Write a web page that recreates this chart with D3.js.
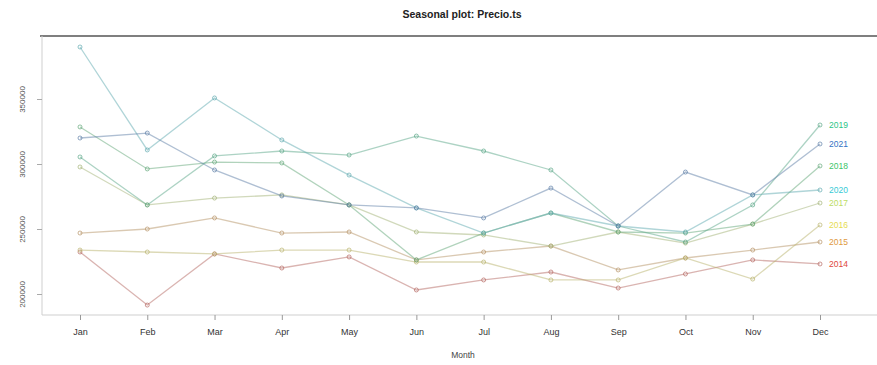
<!DOCTYPE html>
<html>
<head>
<meta charset="utf-8">
<script src="https://cdn.jsdelivr.net/npm/d3@7"></script>
<style>
  html, body { margin: 0; padding: 0; background: #fff; }
  svg { display: block; font-family: "Liberation Sans", Arial, sans-serif; }
</style>
</head>
<body>
<svg id="chart" width="877" height="365"></svg>
<script>
// Monthly price series, one line per year
const months = ["Jan","Feb","Mar","Apr","May","Jun","Jul","Aug","Sep","Oct","Nov","Dec"];
const years = ["2014","2015","2016","2017","2018","2019","2020","2021"];
const yearColors = ["#e0463c","#e09a40","#e6dc50","#bcdc64","#3cc468","#2cc486","#38cad6","#3474c4"];
const yTicks = [200000, 250000, 300000, 350000];

const v2014 = [232300, 191500, 230800, 220000, 228500, 203100, 210800, 216900, 204600, 215400, 226200, 223100];
const v2015 = [246900, 250000, 258500, 246900, 247700, 226200, 232300, 236900, 218500, 227700, 233800, 240000];
const v2016 = [233800, 232300, 230800, 233800, 233800, 224600, 224600, 210800, 210800, 227700, 211500, 253100];
const v2017 = [297700, 268500, 273800, 276200, 268500, 247700, 245400, 236900, 247700, 239200, 253800, 270000];
const v2018 = [328500, 296200, 301500, 300800, 268500, 226200, 246900, 262300, 247700, 246900, 253800, 298500];
const v2019 = [305400, 268500, 306200, 310000, 306900, 321500, 310000, 295400, 252300, 240000, 268500, 330000];
const v2020 = [390000, 310800, 350800, 318500, 291500, 266200, 246900, 262300, 252300, 247700, 276200, 280000];
const v2021 = [320000, 323800, 295400, 275400, 268500, 266200, 258500, 281500, 252300, 293800, 276200, 315400];
const seriesValues = [v2014, v2015, v2016, v2017, v2018, v2019, v2020, v2021];

const svg = d3.select("#chart");

const x = d3.scalePoint().domain(months).range([80, 820]);
const y = d3.scaleLinear().domain([200000, 350000]).range([294, 99]);

// title
svg.append("text")
  .attr("x", 462).attr("y", 18)
  .attr("text-anchor", "middle")
  .attr("font-size", 10.5).attr("font-weight", "bold")
  .attr("fill", "#222")
  .text("Seasonal plot: Precio.ts");

// frame: dark top edge, light left and bottom axes
svg.append("line").attr("x1", 40).attr("x2", 877).attr("y1", 36).attr("y2", 36)
  .attr("stroke", "#555").attr("stroke-width", 1.6);

// y axis with rotated labels
const yAxis = d3.axisLeft(y).tickValues(yTicks).tickSize(5).tickFormat(d3.format("d"));
const gy = svg.append("g").attr("transform", "translate(42,0)").call(yAxis);
gy.select(".domain").attr("d", "M0,36V315").attr("stroke", "#cfcfcf");
gy.selectAll(".tick line").attr("stroke", "#aaa");
gy.selectAll(".tick text")
  .attr("font-size", 8).attr("fill", "#555")
  .attr("transform", "rotate(-90)")
  .attr("x", 0).attr("y", -20)
  .attr("dy", "0.32em")
  .attr("text-anchor", "middle");

// x axis
const xAxis = d3.axisBottom(x).tickSize(5);
const gx = svg.append("g").attr("transform", "translate(0,315)").call(xAxis);
gx.select(".domain").attr("d", "M42,0H877").attr("stroke", "#cfcfcf");
gx.selectAll(".tick line").attr("stroke", "#999");
gx.selectAll(".tick text").attr("font-size", 9).attr("fill", "#333").attr("y", 14);

svg.append("text")
  .attr("x", 463).attr("y", 358)
  .attr("text-anchor", "middle")
  .attr("font-size", 8.5).attr("fill", "#444")
  .text("Month");

// year lines with point markers and end labels
const line = d3.line().x((d, i) => x(months[i])).y(d => y(d));

years.forEach((yr, k) => {
  const vals = seriesValues[k];
  const c = yearColors[k];
  const lc = d3.interpolateRgb(c, "#8c8c8c")(0.5);
  svg.append("path")
    .datum(vals)
    .attr("d", line)
    .attr("fill", "none")
    .attr("stroke", lc)
    .attr("stroke-opacity", 0.5)
    .attr("stroke-width", 1.3);
  svg.append("g").selectAll("circle")
    .data(vals)
    .join("circle")
    .attr("cx", (d, i) => x(months[i]))
    .attr("cy", d => y(d))
    .attr("r", 2)
    .attr("fill", "none")
    .attr("stroke", lc)
    .attr("stroke-opacity", 0.7)
    .attr("stroke-width", 1);
  svg.append("text")
    .attr("x", x("Dec") + 9)
    .attr("y", y(vals[11]))
    .attr("dy", "0.35em")
    .attr("font-size", 8.5)
    .attr("fill", c)
    .text(yr);
});
</script>
</body>
</html>
